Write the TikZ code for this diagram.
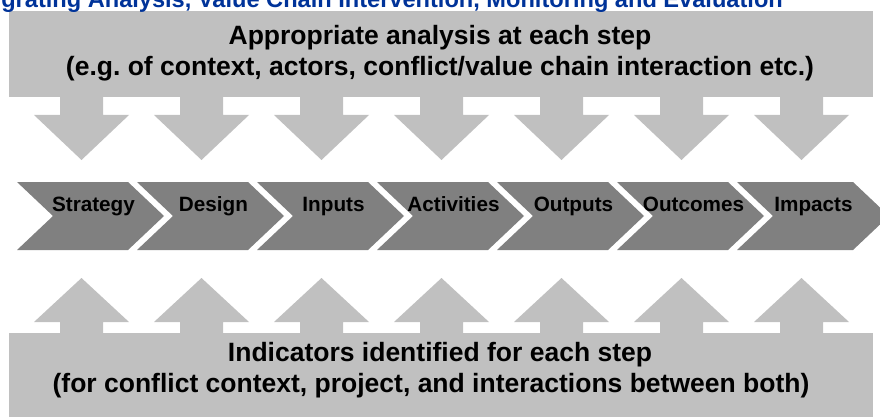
\documentclass[tikz,border=0pt]{standalone}
\usepackage{fontspec}
\setmainfont{Liberation Sans}
\definecolor{bannergray}{RGB}{192,192,192}
\definecolor{chevgray}{RGB}{128,128,128}
\definecolor{titleblue}{RGB}{0,51,153}
\frenchspacing
\begin{document}
\begin{tikzpicture}[x=1pt,y=-1pt,
  banner/.style={fill=bannergray},
  chev/.style={fill=chevgray},
  bigtext/.style={font=\bfseries\fontsize{26.5}{31}\selectfont, anchor=base, inner sep=0pt},
  steptext/.style={font=\bfseries\fontsize{20.7}{24}\selectfont, anchor=base, inner sep=0pt},
  titletext/.style={font=\bfseries\fontsize{23.6}{28}\selectfont, text=titleblue, anchor=base east, inner sep=0pt}]
\useasboundingbox (0,0) rectangle (880,417);
% banners
\fill[banner] (9,11) rectangle (873,97);
\fill[banner] (9,333) rectangle (873,417);
% arrows
\foreach \i in {0,...,6} {
  \pgfmathsetmacro\cx{81.5+120*\i}
  \fill[banner] (\cx-21.5,96) -- (\cx+21.5,96) -- (\cx+21.5,115) -- (\cx+47.5,115)
     -- (\cx,160) -- (\cx-47.5,115) -- (\cx-21.5,115) -- cycle;
  \fill[banner] (\cx-21.5,334) -- (\cx+21.5,334) -- (\cx+21.5,322) -- (\cx+47.5,322)
     -- (\cx,278) -- (\cx-47.5,322) -- (\cx-21.5,322) -- cycle;
}
% chevrons
\foreach \i in {0,...,5} {
  \pgfmathsetmacro\L{17+120*\i}
  \fill[chev] (\L,182) -- (\L+111,182) -- (\L+147,216) -- (\L+111,250) -- (\L,250) -- (\L+36,216) -- cycle;
}
\fill[chev] (737,182) -- (853,182) -- (889,216) -- (853,250) -- (737,250) -- (773,216) -- cycle;
% step labels
\foreach \t [count=\i from 0] in {Strategy,Design,Inputs,Activities,Outputs,Outcomes,Impacts} {
  \node[steptext] (s\i) at (93.5+120*\i,211) {\t};
}
% banner texts
\node[bigtext] (top1) at (440,45) {Appropriate analysis at each step};
\node[bigtext] (top2) at (440,76) {(e.g.\ of context, actors, conflict/value chain interaction etc.)};
\node[bigtext] (bot1) at (440,361) {Indicators identified for each step};
\node[bigtext] (bot2) at (431,392) {(for conflict context, project, and interactions between both)};
% title
\node[titletext] (title) at (783,8) {grating Analysis, Value Chain Intervention, Monitoring and Evaluation};
\end{tikzpicture}
\end{document}
